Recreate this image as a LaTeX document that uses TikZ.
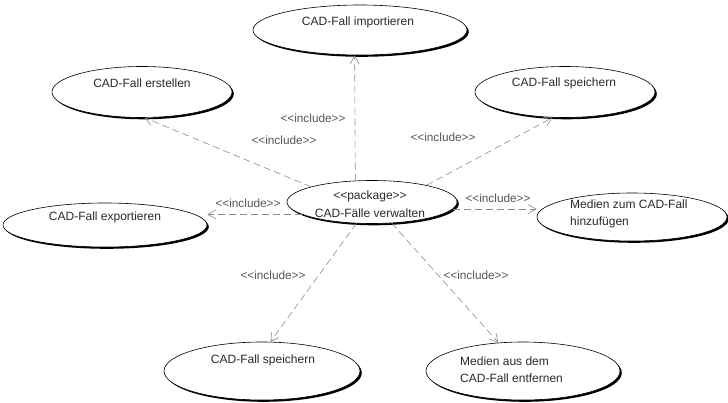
\documentclass[tikz,border=0pt]{standalone}
\usepackage{fontspec}
% plain family: no TeX ligatures, so that << and >> stay as typed
\newfontfamily\umlfont{Liberation Sans}
\usetikzlibrary{shapes.geometric,arrows.meta,shadows}

\definecolor{txtgray}{HTML}{2A2A2A}
\definecolor{lblgray}{HTML}{555555}
\definecolor{dashgray}{HTML}{8C8C8C}

\tikzset{
  usecase/.style={ellipse, draw=black, line width=0.6pt, fill=white, inner sep=0pt,
    drop shadow={shadow xshift=1.8pt, shadow yshift=-1.8pt, fill=black, opacity=1}},
  uctext/.style={text=txtgray, font=\umlfont\fontsize{12}{17.5}\selectfont, inner sep=0pt},
  uctextleft/.style={uctext, align=left, anchor=west},
  inclabel/.style={text=lblgray, font=\umlfont\fontsize{11.8}{14}\selectfont, inner sep=0pt},
  include/.style={draw=dashgray, line width=0.6pt, dash pattern=on 7pt off 4pt,
    -{Straight Barb[length=8pt, width=9pt, line width=0.6pt]}}
}

\begin{document}
\begin{tikzpicture}[x=1pt, y=-1pt]
  \useasboundingbox (0,0) rectangle (728,403);

  % use cases
  \node[usecase, minimum width=214pt, minimum height=50pt] (imp)  at (360,30)  {};
  \node[usecase, minimum width=180pt, minimum height=51pt] (erst) at (142,92)  {};
  \node[usecase, minimum width=180pt, minimum height=51pt] (spTR) at (565,92)  {};
  \node[usecase, minimum width=204pt, minimum height=44pt] (exp)  at (105,225) {};
  \node[usecase, minimum width=170pt, minimum height=43pt] (pkg)  at (372,202) {};
  \node[usecase, minimum width=190pt, minimum height=48pt] (med1) at (632,217) {};
  \node[usecase, minimum width=196pt, minimum height=58pt] (spBL) at (262,371) {};
  \node[usecase, minimum width=194pt, minimum height=58pt] (med2) at (523,371) {};

  % use case names
  \node[uctext] (timp)  at (358,22)  {CAD-Fall importieren};
  \node[uctext] (terst) at (142,83)  {CAD-Fall erstellen};
  \node[uctext] (tspTR) at (564,83)  {CAD-Fall speichern};
  \node[uctext] (texp)  at (105,217) {CAD-Fall exportieren};
  \node[uctext, align=center] (tpkg) at (370,204) {<<package>>\\CAD-Fälle verwalten};
  \node[uctextleft] (tmed1) at (570,214) {Medien zum CAD-Fall\\hinzufügen};
  \node[uctext] (tspBL) at (263,360) {CAD-Fall speichern};
  \node[uctextleft] (tmed2) at (460,369.5) {Medien aus dem\\CAD-Fall entfernen};

  % include relations
  \draw[include] (pkg.128.9) -- (imp.258.7);
  \draw[include] (pkg.166.7) -- (erst.276.7);
  \draw[include] (pkg.17.6)  -- (spTR.244.7);
  \draw[include] (pkg.190)   -- (pkg.190 -| exp.east);
  \draw[include] (pkg.355)   -- (pkg.355 -| med1.west);
  \draw[include] (pkg.234.7) -- (spBL.74.5);
  \draw[include] (pkg.313.7) -- (med2.131.8);

  % stereotype labels
  \node[inclabel] (limp)  at (313,118) {<<include>>};
  \node[inclabel] (lerst) at (284,140) {<<include>>};
  \node[inclabel] (lspTR) at (443,137) {<<include>>};
  \node[inclabel] (lexp)  at (248,203) {<<include>>};
  \node[inclabel] (lmed1) at (498,198) {<<include>>};
  \node[inclabel] (lspBL) at (273,275) {<<include>>};
  \node[inclabel] (lmed2) at (476,275) {<<include>>};
\end{tikzpicture}
\end{document}
